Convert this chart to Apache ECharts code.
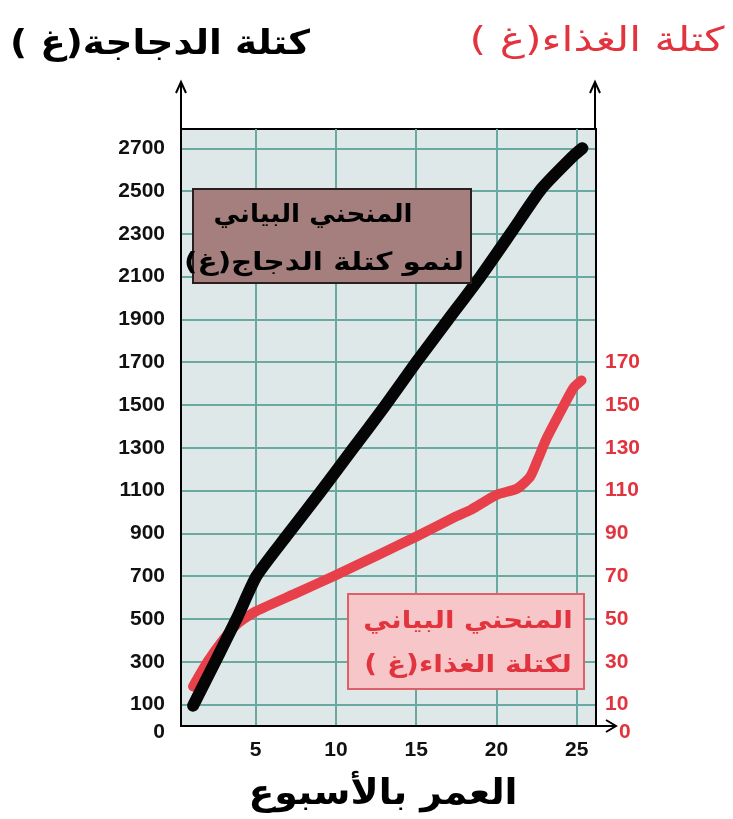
<!DOCTYPE html>
<html>
<head>
<meta charset="utf-8">
<script src="https://cdn.jsdelivr.net/npm/echarts@6/dist/echarts.min.js"></script>
<style>
html, body { margin: 0; padding: 0; background: #fff; }
#chart { width: 733px; height: 819px; }
</style>
</head>
<body>
<div id="chart"></div>
<script>
// === ДАННЫЕ ===
const chickenWeeks = [1.1, 2.6, 3.9, 5.05, 7.0, 9.0, 11.0, 13.0, 15.0, 17.0, 19.0, 21.0, 22.8, 24.8, 25.35];
const chickenMass  = [95, 318, 515, 700, 895, 1090, 1290, 1490, 1700, 1900, 2100, 2315, 2510, 2665, 2700];

const foodWeeks = [1.1, 2.0, 3.0, 3.9, 5.0, 7.5, 10.0, 12.5, 15.0, 17.5, 18.4, 20.0, 21.3, 22.1, 22.6, 23.1, 24.0, 24.8, 25.3];
const foodMass  = [18.5, 30, 40.5, 48, 53.5, 62, 70.5, 79.5, 88.5, 98, 101, 108, 111, 116.5, 125, 134, 147, 158, 161.5];

const weekTicks = [5, 10, 15, 20, 25];
const massTicks = [0, 100, 300, 500, 700, 900, 1100, 1300, 1500, 1700, 1900, 2100, 2300, 2500, 2700];
const foodTicks = [0, 10, 30, 50, 70, 90, 110, 130, 150, 170];

const titleChicken = 'كتلة الدجاجة(غ )';
const titleFood = 'كتلة الغذاء(غ )';
const titleAge = 'العمر بالأسبوع';
const boxChicken = ['المنحني البياني', 'لنمو كتلة الدجاج(غ)'];
const boxFood = ['المنحني البياني', 'لكتلة الغذاء(غ )'];

// === СТИЛИ ===
const digitFont = '"Liberation Sans", Arial, sans-serif';
const arabicFont = '"DejaVu Sans", sans-serif';
const red = '#e2343e';
const gridColor = '#6aa8a2';
const rtl = s => '\u200F' + s + '\u200F';

const toPairs = (xs, ys) => xs.map((x, i) => [x, ys[i]]);

function label(text, x, y, size, color, bold, sx) {
    return {
        type: 'text', z: 11, x: x, y: y, scaleX: sx || 1,
        style: {
            text: rtl(text), x: 0, y: 0, align: 'center', verticalAlign: 'middle',
            fontFamily: arabicFont, fontWeight: bold ? 'bold' : 'normal', fontSize: size, fill: color
        }
    };
}

function stroke(points) {
    return { type: 'polyline', shape: { points: points }, style: { stroke: '#000', lineWidth: 2, fill: null } };
}

// === РЕНДЕРИНГ ===
const chart = echarts.init(document.getElementById('chart'), null, { renderer: 'canvas' });

const option = {
    backgroundColor: '#fff',
    animation: false,
    grid: {
        left: 181, right: 137, top: 129, bottom: 93,
        show: true, backgroundColor: '#dfe8e9',
        borderColor: '#000', borderWidth: 2
    },
    xAxis: {
        type: 'value', min: 0.35, max: 26.2,
        axisLine: { show: true, lineStyle: { color: '#000', width: 2 } },
        axisTick: { show: false, customValues: weekTicks },
        splitLine: { show: true, lineStyle: { color: gridColor, width: 2 } },
        axisLabel: {
            customValues: weekTicks, margin: 14,
            fontFamily: digitFont, fontWeight: 'bold', fontSize: 21, color: '#111'
        }
    },
    yAxis: [
        {
            type: 'value', min: 0, max: 2790, position: 'left',
            axisLine: { show: true, lineStyle: { color: '#000', width: 2 } },
            axisTick: { show: false, customValues: massTicks.filter(v => v > 0) },
            splitLine: { show: true, lineStyle: { color: gridColor, width: 2 } },
            axisLabel: {
                customValues: massTicks, margin: 16,
                fontFamily: digitFont, fontWeight: 'bold', fontSize: 21, color: '#111',
                formatter: v => v === 0 ? '{z|0}' : String(v),
                rich: { z: { padding: [12, 0, 0, 0], fontFamily: digitFont, fontWeight: 'bold', fontSize: 21, color: '#111' } }
            }
        },
        {
            type: 'value', min: 0, max: 279, position: 'right',
            axisLine: { show: true, lineStyle: { color: '#000', width: 2 } },
            axisTick: { show: false },
            splitLine: { show: false },
            axisLabel: {
                customValues: foodTicks, margin: 9,
                fontFamily: digitFont, fontWeight: 'bold', fontSize: 21, color: red,
                formatter: v => v === 0 ? '{z|0}' : String(v),
                rich: { z: { padding: [12, 0, 0, 14], fontFamily: digitFont, fontWeight: 'bold', fontSize: 21, color: red } }
            }
        }
    ],
    series: [
        {
            name: 'food', type: 'line', yAxisIndex: 1,
            data: toPairs(foodWeeks, foodMass),
            smooth: 0.2, showSymbol: false, symbol: 'none',
            lineStyle: { color: '#e8404a', width: 10, cap: 'round', join: 'round' },
            z: 3
        },
        {
            name: 'chicken', type: 'line', yAxisIndex: 0,
            data: toPairs(chickenWeeks, chickenMass),
            smooth: 0.2, showSymbol: false, symbol: 'none',
            lineStyle: { color: '#050505', width: 12, cap: 'round', join: 'round' },
            z: 4
        }
    ],
    graphic: [
        // стрелки осей
        stroke([[181, 129], [181, 82]]),
        stroke([[176, 93], [181, 82], [186, 93]]),
        stroke([[595, 129], [595, 82]]),
        stroke([[590, 93], [595, 82], [600, 93]]),
        stroke([[596, 726], [615, 726]]),
        stroke([[606, 720], [616, 726], [606, 732]]),
        // заголовки
        label(titleChicken, 160, 45, 34, '#000', true, 1.1),
        label(titleFood, 597, 42, 34, red, false, 1.25),
        label(titleAge, 383, 795, 35, '#000', true, 1.08),
        // подписи кривых
        { type: 'rect', z: 10, shape: { x: 193, y: 189, width: 278, height: 94 }, style: { fill: '#a47f7e', stroke: '#2a1f1f', lineWidth: 2 } },
        label(boxChicken[0], 313, 215, 25, '#000', true, 1.05),
        label(boxChicken[1], 324, 263, 25, '#000', true, 1.18),
        { type: 'rect', z: 10, shape: { x: 348, y: 594, width: 236, height: 95 }, style: { fill: '#f7c6c9', stroke: '#e0606a', lineWidth: 2 } },
        label(boxFood[0], 468, 622, 24, red, true, 1.15),
        label(boxFood[1], 468, 666, 24, red, true, 1.17)
    ]
};

chart.setOption(option);
</script>
</body>
</html>
